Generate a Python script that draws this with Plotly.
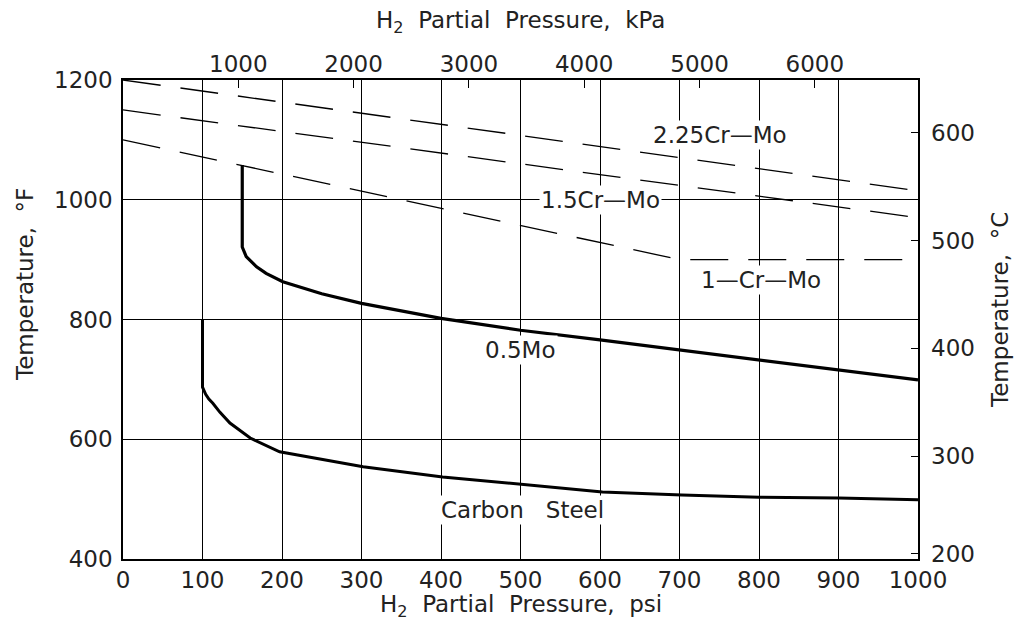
import plotly.graph_objects as go

PSI_TO_KPA = 6.894757

# ---- data ----
carbon_psi = [100, 100, 104, 108, 113, 122, 134.5, 160, 197, 248, 302, 402, 502, 603, 703, 800, 900, 1000]
carbon_F   = [800, 687, 675, 667, 660, 645, 627, 602, 579, 567, 554, 537, 524, 512, 507, 503, 502, 499]

mo05_psi = [150, 150, 155, 168, 180, 201, 250, 300, 400, 500, 600, 700, 800, 900, 1000]
mo05_F   = [1058, 921, 905, 888, 877, 863, 843, 827, 802, 782, 766, 749, 732, 716, 699]

cr225_psi = [0, 1000]
cr225_F   = [1200, 1015]

cr15_psi = [0, 1000]
cr15_F   = [1150, 970]

cr1_psi = [0, 700, 1000]
cr1_F   = [1100, 900, 900]

psi_ticks = list(range(0, 1001, 100))
kpa_ticks = [1000, 2000, 3000, 4000, 5000, 6000]
F_ticks = [400, 600, 800, 1000, 1200]
C_labels = [200, 300, 400, 500, 600]

labels = [
    ("2.25Cr—Mo", 751, 1108),
    ("1.5Cr—Mo", 600, 1000),
    ("1—Cr—Mo", 802, 866),
    ("0.5Mo", 500, 749),
    ("Carbon\u00a0\u00a0 Steel", 503, 482),
]

F_MIN, F_MAX = 400, 1200
def f_to_c(f):
    return (f - 32) / 1.8

FONT = "DejaVu Sans"
TXT = "#222222"
FS = 23
SP = "\u00a0 "

fig = go.Figure()

dash = "38px,20px"
for xs, ys in [(cr225_psi, cr225_F), (cr15_psi, cr15_F), (cr1_psi, cr1_F)]:
    fig.add_trace(go.Scatter(x=xs, y=ys, mode="lines",
                             line=dict(color="black", width=1.3, dash=dash),
                             hoverinfo="skip", showlegend=False))

fig.add_trace(go.Scatter(x=mo05_psi, y=mo05_F, mode="lines",
                         line=dict(color="black", width=3.2),
                         hoverinfo="skip", showlegend=False))
fig.add_trace(go.Scatter(x=carbon_psi, y=carbon_F, mode="lines",
                         line=dict(color="black", width=3),
                         hoverinfo="skip", showlegend=False))

# invisible traces to activate secondary axes
fig.add_trace(go.Scatter(x=[p * PSI_TO_KPA for p in carbon_psi], y=carbon_F,
                         xaxis="x2", yaxis="y", mode="lines", opacity=0,
                         hoverinfo="skip", showlegend=False))
fig.add_trace(go.Scatter(x=carbon_psi, y=[f_to_c(f) for f in carbon_F],
                         xaxis="x", yaxis="y2", mode="lines", opacity=0,
                         hoverinfo="skip", showlegend=False))

for text, px, tf in labels:
    fig.add_annotation(x=px, y=tf, text=text, showarrow=False,
                       font=dict(family=FONT, size=FS, color=TXT),
                       bgcolor="white", borderpad=1)

c_tickvals = [max(c, f_to_c(F_MIN) + 5) for c in C_labels]

fig.update_layout(
    width=1011, height=613,
    margin=dict(l=115, r=101, t=72, b=62),
    paper_bgcolor="white", plot_bgcolor="white",
    font=dict(family=FONT, size=FS, color=TXT),
    xaxis=dict(range=[0, 1000], tickvals=psi_ticks, showgrid=True,
               gridcolor="black", gridwidth=1.3, showline=True, linecolor="black",
               linewidth=1.5, mirror=True, ticks="", zeroline=False,
               tickfont=dict(family=FONT, size=FS, color=TXT)),
    xaxis2=dict(range=[0, 1000 * PSI_TO_KPA], overlaying="x", side="top", anchor="y",
                tickvals=kpa_ticks, ticks="inside", ticklen=8, tickcolor="black",
                tickwidth=1.3, showgrid=False, showline=False, zeroline=False,
                ticklabelstandoff=2,
                tickfont=dict(family=FONT, size=FS, color=TXT)),
    yaxis=dict(range=[F_MIN, F_MAX], tickvals=F_ticks, showgrid=True,
               gridcolor="black", gridwidth=1.3, showline=True, linecolor="black",
               linewidth=1.5, mirror=True, ticks="", zeroline=False,
               ticklabelstandoff=4,
               tickfont=dict(family=FONT, size=FS, color=TXT)),
    yaxis2=dict(range=[f_to_c(F_MIN), f_to_c(F_MAX)], overlaying="y", side="right",
                anchor="x", tickvals=c_tickvals, ticktext=[str(c) for c in C_labels],
                ticks="inside", ticklen=7, tickcolor="black", tickwidth=1.3,
                showgrid=False, showline=False, zeroline=False,
                ticklabelstandoff=12,
                tickfont=dict(family=FONT, size=FS, color=TXT)),
    showlegend=False,
)

fig.add_annotation(xref="paper", yref="paper", x=0.5, y=1, yshift=58,
                   xanchor="center", yanchor="middle",
                   text="H<sub>2</sub>" + SP + "Partial" + SP + "Pressure," + SP + "kPa",
                   showarrow=False, font=dict(family=FONT, size=FS, color=TXT))
fig.add_annotation(xref="paper", yref="paper", x=0.5, y=0, yshift=-47,
                   xanchor="center", yanchor="middle",
                   text="H<sub>2</sub>" + SP + "Partial" + SP + "Pressure," + SP + "psi",
                   showarrow=False, font=dict(family=FONT, size=FS, color=TXT))
fig.add_annotation(xref="paper", yref="paper", x=0, xshift=-98, y=0.572,
                   xanchor="center", yanchor="middle",
                   text="Temperature," + SP + "°F", textangle=-90,
                   showarrow=False, font=dict(family=FONT, size=FS, color=TXT))
fig.add_annotation(xref="paper", yref="paper", x=1, xshift=82, y=0.52,
                   xanchor="center", yanchor="middle",
                   text="Temperature," + SP + "°C", textangle=-90,
                   showarrow=False, font=dict(family=FONT, size=FS, color=TXT))

fig.write_html("out.html")
